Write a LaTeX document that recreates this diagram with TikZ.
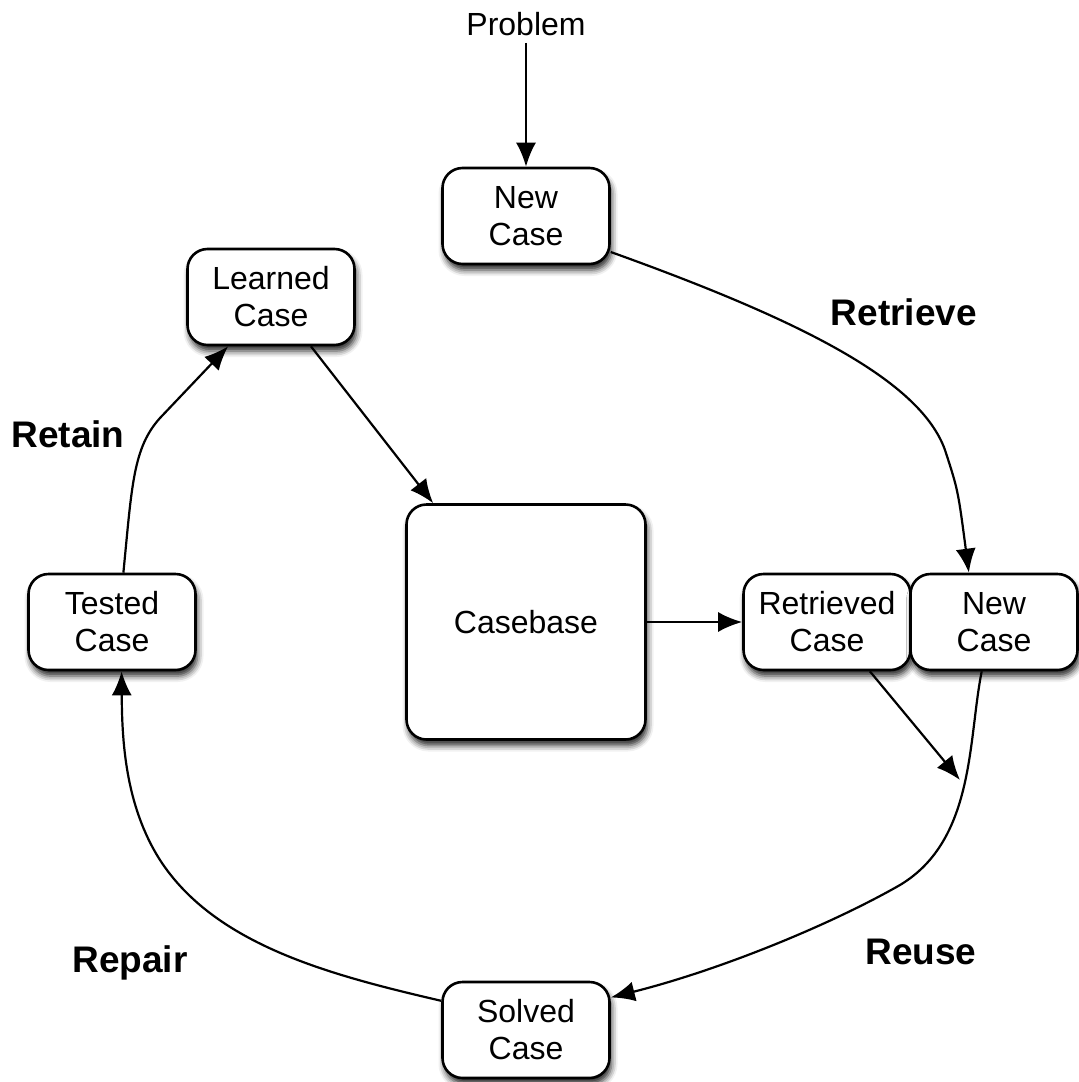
\documentclass[tikz,border=0pt]{standalone}
\usepackage{fontspec}
\setmainfont{Liberation Sans}
\usepackage{tikz}
\usetikzlibrary{arrows.meta, shadows.blur, positioning}

\begin{document}
\begin{tikzpicture}[x=0.5pt, y=-0.5pt,
    >={Latex[length=12pt, width=10pt]},
    casebox/.style={draw, line width=1.3pt, fill=white, rounded corners=10pt,
        align=center, inner sep=0pt, minimum width=83.5pt, minimum height=48pt,
        font=\fontsize{16}{18.5}\selectfont,
        blur shadow={shadow xshift=1pt, shadow yshift=-3pt, shadow blur radius=3pt, shadow opacity=85}},
    phase/.style={font=\fontsize{18.5}{22}\selectfont\bfseries},
    link/.style={->, line width=1.1pt}]
    % 1. Khung hình
    \useasboundingbox (0,0) rectangle (1078,1082);

    % 2. Các hộp
    \node (problem) at (526,24) {\fontsize{16}{18.5}\selectfont Problem};
    \node[casebox] (newtop) at (526,216) {New\\Case};
    \node[casebox] (learned) at (271,297) {Learned\\Case};
    \node[casebox, minimum width=119.5pt, minimum height=117.5pt] (casebase) at (526,622) {Casebase};
    \node[casebox] (tested) at (112,622) {Tested\\Case};
    \node[casebox] (retrieved) at (827,622) {Retrieved\\Case};
    \node[casebox] (newright) at (994,622) {New\\Case};
    \node[casebox] (solved) at (526,1030) {Solved\\Case};
    \coordinate (reuseend) at (960,780);

    % 3. Nhãn các bước
    \node[phase] (retrieve) at (904,312) {Retrieve};
    \node[phase] (retain) at (68,434) {Retain};
    \node[phase] (repair) at (130,963) {Repair};
    \node[phase] (reuse) at (921,952) {Reuse};

    % 4. Mũi tên
    \draw[link] (problem) -- (newtop);
    \draw[link] (newtop.-23) .. controls (800,320) and (920,380) .. (945,450)
        .. controls (958,490) .. (newright.117);
    \draw[link] (learned.-51) -- (casebase.128);
    \draw[link] (casebase) -- (retrieved);
    \draw[link] (retrieved.-49) -- (reuseend);
    \draw[link] (newright.-104) .. controls (968,740) and (975,840) .. (900,885)
        .. controls (830,925) and (720,970) .. (solved.21);
    \draw[link] (solved.161) .. controls (330,975) and (215,945) .. (160,860)
        .. controls (125,805) and (122,740) .. (tested.-79);
    \draw[link] (tested.77) .. controls (132,485) and (133,448) .. (160,418)
        -- (learned.-131);
\end{tikzpicture}
\end{document}
